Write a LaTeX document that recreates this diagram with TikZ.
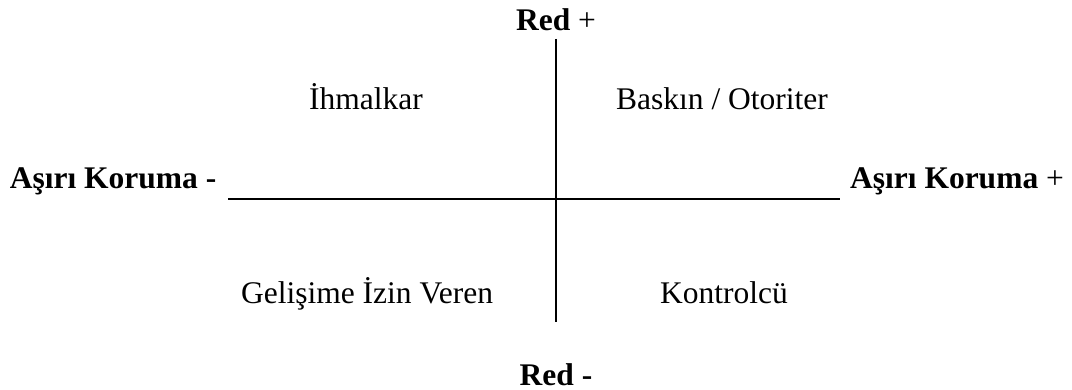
\documentclass[tikz,border=0pt]{standalone}
\usepackage{fontspec}
\setmainfont{Liberation Serif}
\begin{document}
\begin{tikzpicture}[x=1pt,y=-1pt,
  lbl/.style={anchor=base,inner sep=0pt,font=\fontsize{31.5}{38}\selectfont},
  axis/.style={line width=2pt,line cap=butt}]
\useasboundingbox (0,0) rectangle (1072,390);
\node[lbl] (rp) at (556,31) {\textbf{Red} +};
\node[lbl] (rm) at (556,385) {\textbf{Red -}};
\node[lbl] (am) at (113,189) {\textbf{Aşırı Koruma -}};
\node[lbl] (ap) at (957,189) {\textbf{Aşırı Koruma} +};
\node[lbl] (q1) at (366,110) {İhmalkar};
\node[lbl] (q2) at (722,110) {Baskın / Otoriter};
\node[lbl] (q3) at (367,304) {Gelişime İzin Veren};
\node[lbl] (q4) at (724,304) {Kontrolcü};
\coordinate (vt) at (555.7,39);
\coordinate (vb) at (555.7,322);
\coordinate (hl) at (228,199);
\coordinate (hr) at (840,199);
\draw[axis] (vt) -- (vb);
\draw[axis] (hl) -- (hr);
\end{tikzpicture}
\end{document}
